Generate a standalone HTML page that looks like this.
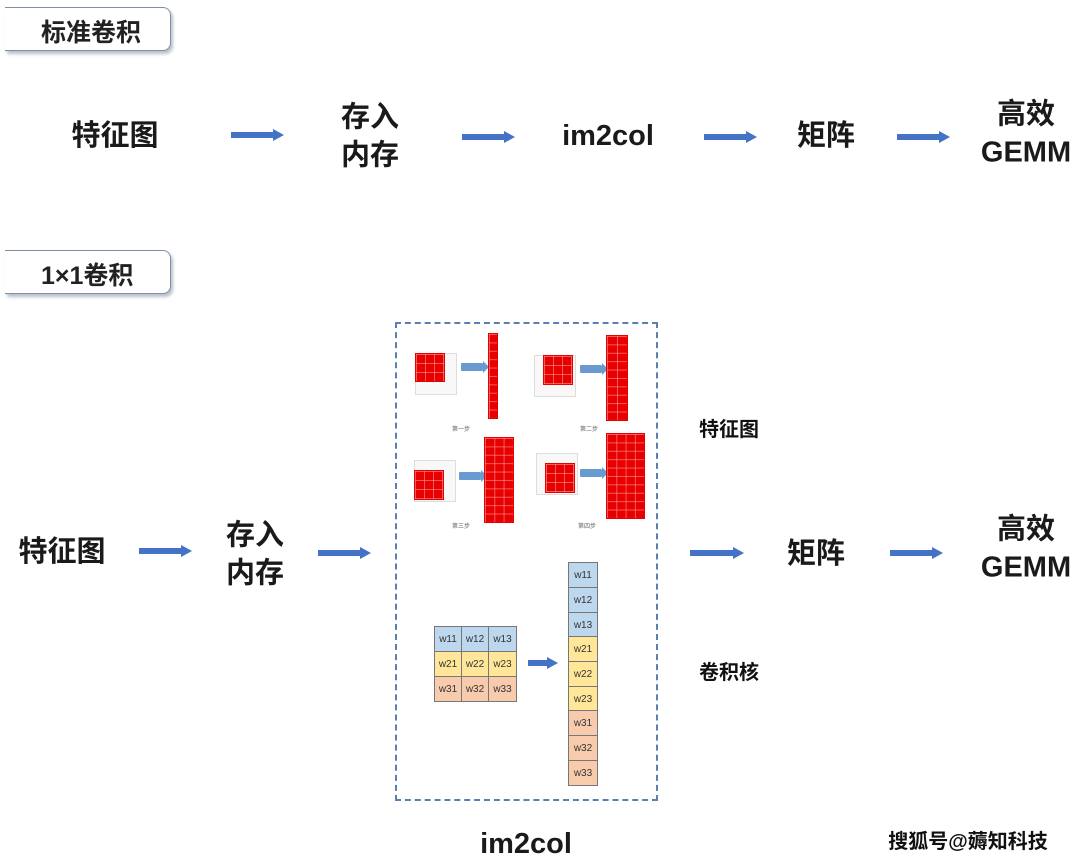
<!DOCTYPE html>
<html><head><meta charset="utf-8"><style>
body{margin:0;width:1080px;height:865px;background:#fff;position:relative;overflow:hidden;font-family:"Liberation Sans","Noto Sans CJK SC",sans-serif;color:#111}
.t{position:absolute;transform:translate(-50%,-50%);white-space:nowrap;text-align:center;line-height:1.3}
.big{font-size:29px;font-weight:bold;color:#1a1a1a}
.tab{position:absolute;left:5px;width:165px;height:42px;border:1.5px solid #7f8fa6;border-left:none;border-radius:0 8px 8px 0;box-shadow:2px 3px 3px #b8c0cc;background:#fff}
.tab span{position:absolute;left:36px;top:5px;font-size:25px;font-weight:bold;color:#222}
.ar{position:absolute;height:12px}
.ar:before{content:"";position:absolute;left:0;top:3px;right:10px;height:6px;background:#4472c4}
.ar:after{content:"";position:absolute;right:0;top:0;border-left:11px solid #4472c4;border-top:6px solid transparent;border-bottom:6px solid transparent}
.red{position:absolute;background-color:#e60000;background-image:linear-gradient(rgba(255,150,150,.6) 1px,transparent 1px),linear-gradient(90deg,rgba(255,150,150,.6) 1px,transparent 1px);border:1px solid #e60000}
.k{position:absolute;border:1px solid #777;font-size:10px;color:#333;display:flex;align-items:center;justify-content:center;box-sizing:border-box}
.b{background:#bdd7ee}.y{background:#ffe699}.o{background:#f8cbad}
.wc{position:absolute;background:#f8f8f8;border:1px solid #ddd}
.sa{position:absolute;width:22px;height:8px;background:#6a9bd0;border-radius:1px}
.sa:after{content:"";position:absolute;right:-6px;top:-2px;border-left:6px solid #6a9bd0;border-top:6px solid transparent;border-bottom:6px solid transparent}
.cap{position:absolute;font-size:6px;color:#666}
</style></head><body>
<div class="tab" style="top:7px"><span>标准卷积</span></div>
<div class="tab" style="top:250px"><span>1×1卷积</span></div>

<div class="t big" style="left:115px;top:137px">特征图</div>
<div class="ar" style="left:231px;top:129px;width:53px"></div>
<div class="t big" style="left:370px;top:137px">存入<br>内存</div>
<div class="ar" style="left:462px;top:131px;width:53px"></div>
<div class="t big" style="left:608px;top:137px">im2col</div>
<div class="ar" style="left:704px;top:131px;width:53px"></div>
<div class="t big" style="left:826px;top:137px">矩阵</div>
<div class="ar" style="left:897px;top:131px;width:53px"></div>
<div class="t big" style="left:1026px;top:134px">高效<br>GEMM</div>

<div class="t big" style="left:62px;top:553px">特征图</div>
<div class="ar" style="left:139px;top:545px;width:53px"></div>
<div class="t big" style="left:255px;top:555px">存入<br>内存</div>
<div class="ar" style="left:318px;top:547px;width:53px"></div>
<div style="position:absolute;left:395px;top:322px;width:259px;height:475px;border:2px dashed #5a7fb0"></div>
<div class="ar" style="left:690px;top:547px;width:54px"></div>
<div class="t big" style="left:816px;top:555px">矩阵</div>
<div class="ar" style="left:890px;top:547px;width:53px"></div>
<div class="t big" style="left:1026px;top:549px">高效<br>GEMM</div>
<div class="t" style="left:729px;top:430px;font-size:20px;font-weight:bold">特征图</div>
<div class="t" style="left:729px;top:673px;font-size:20px;font-weight:bold">卷积核</div>
<div class="t big" style="left:526px;top:845px">im2col</div>
<div class="t" style="left:968px;top:842px;font-size:20px;font-weight:bold">搜狐号@薅知科技</div>

<div class="wc" style="left:415px;top:353px;width:40px;height:40px"></div>
<div class="red" style="left:415px;top:353px;width:28px;height:27px;background-size:9px 9px"></div>
<div class="sa" style="left:461px;top:363px"></div>
<div class="red" style="left:488px;top:333px;width:8px;height:84px;background-size:9px 8.4px"></div>
<div class="cap" style="left:452px;top:424px">第一步</div>

<div class="wc" style="left:534px;top:355px;width:40px;height:40px"></div>
<div class="red" style="left:543px;top:355px;width:28px;height:28px;background-size:9px 9px"></div>
<div class="sa" style="left:580px;top:365px"></div>
<div class="red" style="left:606px;top:335px;width:20px;height:84px;background-size:10px 8.4px"></div>
<div class="cap" style="left:580px;top:424px">第二步</div>

<div class="wc" style="left:414px;top:460px;width:40px;height:40px"></div>
<div class="red" style="left:414px;top:470px;width:28px;height:28px;background-size:9px 9px"></div>
<div class="sa" style="left:459px;top:472px"></div>
<div class="red" style="left:484px;top:437px;width:28px;height:84px;background-size:9.3px 8.4px"></div>
<div class="cap" style="left:452px;top:521px">第三步</div>

<div class="wc" style="left:536px;top:453px;width:40px;height:40px"></div>
<div class="red" style="left:545px;top:463px;width:28px;height:28px;background-size:9px 9px"></div>
<div class="sa" style="left:580px;top:469px"></div>
<div class="red" style="left:606px;top:433px;width:37px;height:84px;background-size:9.3px 8.4px"></div>
<div class="cap" style="left:578px;top:521px">第四步</div>

<div class="k b" style="left:434px;top:626px;width:28px;height:26px">w11</div>
<div class="k b" style="left:461px;top:626px;width:28px;height:26px">w12</div>
<div class="k b" style="left:488px;top:626px;width:29px;height:26px">w13</div>
<div class="k y" style="left:434px;top:651px;width:28px;height:26px">w21</div>
<div class="k y" style="left:461px;top:651px;width:28px;height:26px">w22</div>
<div class="k y" style="left:488px;top:651px;width:29px;height:26px">w23</div>
<div class="k o" style="left:434px;top:676px;width:28px;height:26px">w31</div>
<div class="k o" style="left:461px;top:676px;width:28px;height:26px">w32</div>
<div class="k o" style="left:488px;top:676px;width:29px;height:26px">w33</div>
<div class="ar" style="left:528px;top:657px;width:30px"></div>
<div class="k b" style="left:568px;top:562px;width:30px;height:26px">w11</div>
<div class="k b" style="left:568px;top:587px;width:30px;height:26px">w12</div>
<div class="k b" style="left:568px;top:612px;width:30px;height:26px">w13</div>
<div class="k y" style="left:568px;top:636px;width:30px;height:26px">w21</div>
<div class="k y" style="left:568px;top:661px;width:30px;height:26px">w22</div>
<div class="k y" style="left:568px;top:686px;width:30px;height:26px">w23</div>
<div class="k o" style="left:568px;top:710px;width:30px;height:26px">w31</div>
<div class="k o" style="left:568px;top:735px;width:30px;height:26px">w32</div>
<div class="k o" style="left:568px;top:760px;width:30px;height:26px">w33</div>
</body></html>
